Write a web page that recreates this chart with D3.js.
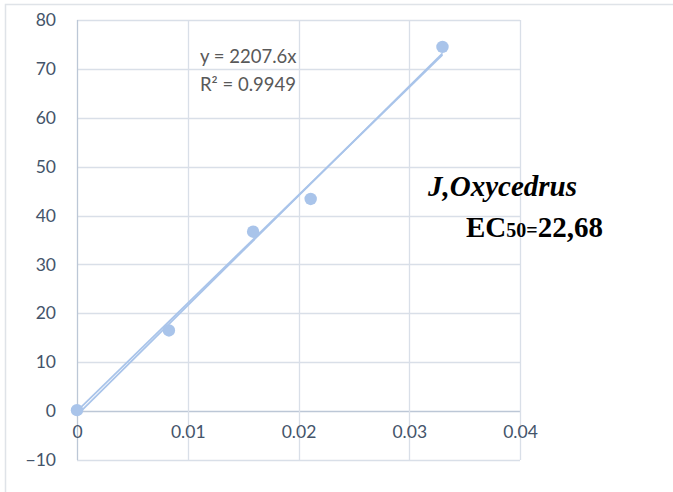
<!DOCTYPE html>
<html>
<head>
<meta charset="utf-8">
<script src="https://cdn.jsdelivr.net/npm/d3@7/dist/d3.min.js"></script>
<style>
  html, body { margin: 0; padding: 0; background: #fff; }
  svg { display: block; }
</style>
</head>
<body>
<svg id="chart" width="673" height="492"></svg>
<script>
// Concentration (x) vs. inhibition % (y)
const concentrations = [0, 0.0083, 0.0159, 0.0211, 0.033];
const inhibition = [0.2, 16.5, 36.7, 43.4, 74.5];

const xTicks = [0, 0.01, 0.02, 0.03, 0.04];
const yTicks = [-10, 0, 10, 20, 30, 40, 50, 60, 70, 80];

// Linear trendlines: one forced through the origin, one free fit
const slopeOrigin = 2207.6;
const slopeFree = 2242.6;
const interceptFree = -0.81;

const equationLabel = "y = 2207.6x";
const r2Label = "R² = 0.9949";

const svg = d3.select("#chart");
const W = 673, H = 492;
const margin = { left: 77, right: 153, top: 20, bottom: 32 };

const axisFont = "Lato, 'Open Sans', sans-serif";
const textColor = "#44546a";
const gridColor = "#d9dfe8";
const seriesColor = "#a9c4ea";

// Chart border
svg.append("rect")
  .attr("x", 5.5).attr("y", 4.5)
  .attr("width", W + 10).attr("height", H + 10)
  .attr("fill", "none")
  .attr("stroke", "#dfe3e8")
  .attr("stroke-width", 1.5);

const x = d3.scaleLinear().domain([0, 0.04]).range([margin.left, W - margin.right]);
const y = d3.scaleLinear().domain([-10, 80]).range([H - margin.bottom, margin.top]);

const g = svg.append("g");

// Horizontal gridlines
g.append("g").selectAll("line")
  .data(yTicks)
  .join("line")
  .attr("x1", x(0)).attr("x2", x(0.04))
  .attr("y1", d => Math.round(y(d)) + 0.5).attr("y2", d => Math.round(y(d)) + 0.5)
  .attr("stroke", d => d === 0 ? "#bcc7d6" : gridColor)
  .attr("stroke-width", 1.3);

// Vertical gridlines
g.append("g").selectAll("line")
  .data(xTicks)
  .join("line")
  .attr("y1", y(-10)).attr("y2", y(80))
  .attr("x1", d => Math.round(x(d)) + 0.5).attr("x2", d => Math.round(x(d)) + 0.5)
  .attr("stroke", d => d === 0 ? "#bcc7d6" : gridColor)
  .attr("stroke-width", 1.3);

// Y tick labels
const yAxis = d3.axisLeft(y).tickValues(yTicks).tickSize(0).tickPadding(21).tickFormat(d3.format("d"));
const yAxisG = svg.append("g").attr("transform", `translate(${x(0)},0)`).call(yAxis);
yAxisG.select(".domain").remove();
yAxisG.selectAll("text")
  .attr("fill", textColor)
  .style("font-family", axisFont)
  .style("font-size", "17.5px");

// X tick labels, placed just below the zero line
const xAxis = d3.axisBottom(x).tickValues(xTicks).tickSize(0).tickPadding(0)
  .tickFormat(d => d === 0 ? "0" : d3.format(".2f")(d));
const xAxisG = svg.append("g").attr("transform", `translate(0,${y(0) + 21})`).call(xAxis);
xAxisG.select(".domain").remove();
xAxisG.selectAll("text")
  .attr("dy", "0.35em")
  .attr("y", 0)
  .attr("fill", textColor)
  .style("font-family", axisFont)
  .style("font-size", "17.5px");

// Trendlines across the data range
const xMin = d3.min(concentrations), xMax = d3.max(concentrations);
const line = d3.line().x(d => x(d[0])).y(d => y(d[1]));

g.append("path")
  .datum([[xMin, slopeFree * xMin + interceptFree], [xMax, slopeFree * xMax + interceptFree]])
  .attr("d", line)
  .attr("fill", "none")
  .attr("stroke", seriesColor)
  .attr("stroke-width", 1.8);

g.append("path")
  .datum([[xMin, slopeOrigin * xMin], [xMax, slopeOrigin * xMax]])
  .attr("d", line)
  .attr("fill", "none")
  .attr("stroke", seriesColor)
  .attr("stroke-width", 1.8);

// Data points
g.append("g").selectAll("circle")
  .data(concentrations.map((c, i) => [c, inhibition[i]]))
  .join("circle")
  .attr("cx", d => x(d[0]))
  .attr("cy", d => y(d[1]))
  .attr("r", 6.2)
  .attr("fill", seriesColor);

// Trendline equation
const eq = svg.append("text")
  .attr("fill", "#595959")
  .style("font-family", axisFont)
  .style("font-size", "18.5px");
eq.append("tspan").attr("x", 200).attr("y", 63).text(equationLabel);
eq.append("tspan").attr("x", 200).attr("y", 91).text(r2Label);

// Species name and EC50
svg.append("text")
  .attr("x", 428).attr("y", 196)
  .attr("fill", "#000")
  .style("font-family", "'Liberation Serif', 'Times New Roman', serif")
  .style("font-weight", "bold")
  .style("font-style", "italic")
  .style("font-size", "29px")
  .text("J,Oxycedrus");

const ec = svg.append("text")
  .attr("x", 466).attr("y", 237)
  .attr("fill", "#000")
  .style("font-family", "'Liberation Serif', 'Times New Roman', serif")
  .style("font-weight", "bold")
  .style("font-size", "29px");
ec.append("tspan").text("EC");
ec.append("tspan").style("font-size", "20px").text("50=");
ec.append("tspan").text("22,68");
</script>
</body>
</html>
